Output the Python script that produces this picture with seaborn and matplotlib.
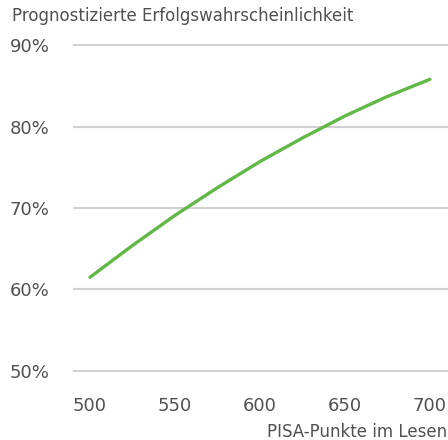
import numpy as np
import pandas as pd
import matplotlib
matplotlib.use("Agg")
import matplotlib.pyplot as plt
import seaborn as sns

# Werte
pisa_punkte = [500, 525, 550, 575, 600, 625, 650, 675, 700]
erfolg_prozent = [61.5, 65.4, 69.1, 72.5, 75.7, 78.6, 81.3, 83.7, 85.8]
y_ticks = [50, 60, 70, 80, 90]
x_ticks = [500, 550, 600, 650, 700]

df = pd.DataFrame({"pisa": pisa_punkte, "erfolg": erfolg_prozent})

sns.set_style("white")
plt.rcParams["font.family"] = ["DejaVu Sans"]

W, H = 448, 440
fig = plt.figure(figsize=(W / 100, H / 100), dpi=100)
# Achse in Pixelkoordinaten: links 73, rechts 448, oben 41, unten 375
ax = fig.add_axes([73 / W, 1 - 375 / H, (448 - 73) / W, (375 - 41) / H])

for y in y_ticks:
    ax.axhline(y, color="#d0d0d0", lw=1.5, zorder=1)

sns.lineplot(data=df, x="pisa", y="erfolg", color="#62b846", lw=2.4, ax=ax, zorder=3)

ax.set_xlim(490, 710.6)
ax.set_ylim(49.5, 90.5)
ax.set_xticks(x_ticks)
ax.set_yticks(y_ticks)
ax.set_yticklabels([f"{v}%" for v in y_ticks])
for s in ax.spines.values():
    s.set_visible(False)
ax.tick_params(axis="both", length=0, labelsize=13, labelcolor="#505050")
ax.tick_params(axis="y", pad=45.4)
for lab in ax.get_yticklabels():
    lab.set_horizontalalignment("left")
ax.tick_params(axis="x", pad=16)
ax.set_xlabel("")
ax.set_ylabel("")

fig.text(12 / W, 1 - 16 / H, "Prognostizierte Erfolgswahrscheinlichkeit",
         ha="left", va="center", fontsize=12, color="#505050")
fig.text(447 / W, 1 - 432 / H, "PISA-Punkte im Lesen",
         ha="right", va="center", fontsize=12, color="#505050")

fig.savefig("out.png", dpi=100)
